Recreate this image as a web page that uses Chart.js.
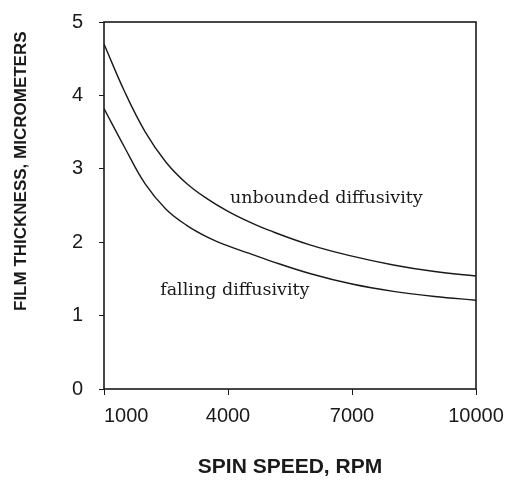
<!DOCTYPE html>
<html>
<head>
<meta charset="utf-8">
<script src="https://cdn.jsdelivr.net/npm/chart.js@4"></script>
<style>
  html, body { margin: 0; padding: 0; background: #fff; }
  #wrap { width: 510px; height: 480px; }
</style>
</head>
<body>
<div id="wrap"><canvas id="myChart" width="510" height="480"></canvas></div>
<script>
// spin speed (rpm) where the curves were read
const spinSpeed = [1000, 1500, 2000, 2500, 3000, 3500, 4000, 4500, 5000, 6000, 7000, 8000, 9000, 10000]
// film thickness, micrometers
const unbounded = [4.70, 4.05, 3.50, 3.09, 2.80, 2.59, 2.42, 2.28, 2.16, 1.96, 1.81, 1.69, 1.60, 1.54]
const falling = [3.82, 3.29, 2.79, 2.45, 2.23, 2.07, 1.95, 1.85, 1.75, 1.57, 1.43, 1.33, 1.26, 1.21]

const xTicks = [1000, 4000, 7000, 10000]
const yTicks = [0, 1, 2, 3, 4, 5]

// curve labels: text, rpm, thickness
const curveLabels = [
	["unbounded diffusivity", 4050, 2.60],
	["falling diffusivity", 2360, 1.34],
]

const ink = "#1a1a1a"
const sans = "'Liberation Sans', Arial, sans-serif"

// box round the plot + curve labels
const framePlugin = {
	id: "frame",
	afterDatasetsDraw: c => {
		const ctx = c.ctx
		const { left, top, width, height } = c.chartArea
		ctx.save()
		ctx.strokeStyle = ink
		ctx.lineWidth = 1.6
		ctx.strokeRect(left, top, width, height)
		ctx.fillStyle = ink
		ctx.font = "17.5px 'DejaVu Serif', serif"
		ctx.textBaseline = "middle"
		ctx.textAlign = "left"
		curveLabels.forEach(([txt, xv, yv]) => {
			ctx.fillText(txt, c.scales.x.getPixelForValue(xv), c.scales.y.getPixelForValue(yv))
		})
		ctx.restore()
	},
}

const chart = document.querySelector("#myChart").getContext("2d")

const myChart = new Chart(chart, {
	type: "line",
	data: {
		labels: spinSpeed,
		datasets: [
			{
				label: "unbounded diffusivity",
				data: spinSpeed.map((s, i) => ({ x: s, y: unbounded[i] })),
				borderColor: ink,
				borderWidth: 1.4,
				pointRadius: 0,
				tension: 0.4,
			},
			{
				label: "falling diffusivity",
				data: spinSpeed.map((s, i) => ({ x: s, y: falling[i] })),
				borderColor: ink,
				borderWidth: 1.4,
				pointRadius: 0,
				tension: 0.4,
			},
		],
	},
	options: {
		responsive: false,
		animation: false,
		layout: { padding: { top: 22, right: 34, bottom: 0, left: 0 } },
		plugins: { legend: { display: false }, tooltip: { enabled: false } },
		scales: {
			x: {
				type: "linear",
				min: 1000,
				max: 10000,
				afterBuildTicks: s => { s.ticks = xTicks.map(v => ({ value: v })) },
				afterFit: s => {
					s.height = 91
					s.paddingLeft = 0
					s.paddingRight = 0
				},
				border: { display: false },
				grid: { drawOnChartArea: false, drawTicks: true, tickLength: 6, color: ink },
				ticks: {
					color: ink,
					padding: 9,
					maxRotation: 0,
					font: { family: sans, size: 20 },
					// first label sits right of the axis in the original
					callback: v => (v === xTicks[0] ? "\u2007\u2007\u2007\u2007" + v : String(v)),
				},
				title: {
					display: true,
					text: "SPIN SPEED, RPM",
					color: ink,
					padding: 0,
					font: { family: sans, size: 21, weight: "bold" },
				},
			},
			y: {
				min: 0,
				max: 5,
				afterBuildTicks: s => { s.ticks = yTicks.map(v => ({ value: v })) },
				afterFit: s => {
					s.width = 104
					s.paddingTop = 0
					s.paddingBottom = 0
				},
				border: { display: false },
				grid: { drawOnChartArea: false, drawTicks: true, tickLength: 5, color: ink },
				ticks: {
					color: ink,
					padding: 16,
					font: { family: sans, size: 20 },
				},
				title: {
					display: true,
					// trailing spaces keep the title a bit below the top of the frame
					text: "FILM THICKNESS, MICROMETERS\u00a0\u00a0",
					color: ink,
					align: "end",
					padding: { top: 11, bottom: 0 },
					font: { family: sans, size: 17, weight: "bold" },
				},
			},
		},
	},
	plugins: [framePlugin],
})
</script>
</body>
</html>
